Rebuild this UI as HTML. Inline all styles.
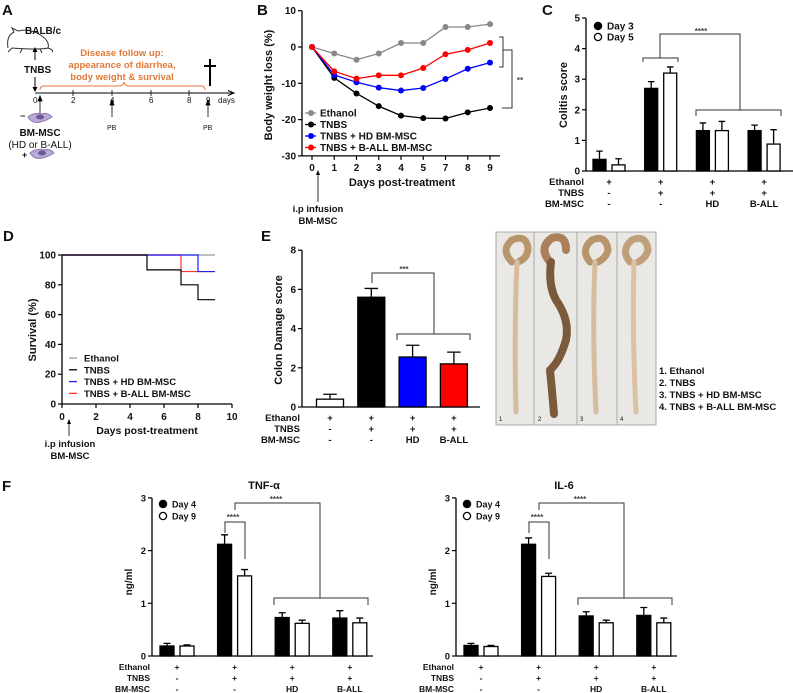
<!DOCTYPE html>
<html><head><meta charset="utf-8">
<style>
html,body{margin:0;padding:0;background:#fff;}
svg{display:block;font-family:"Liberation Sans",sans-serif;}
text{font-weight:bold;fill:#111;}
</style></head>
<body>
<svg id="fig" width="793" height="693" viewBox="0 0 793 693" xmlns="http://www.w3.org/2000/svg">
<!-- Panel letters -->
<g font-size="15">
<text x="2" y="15">A</text>
<text x="257" y="15">B</text>
<text x="542" y="15">C</text>
<text x="3" y="241">D</text>
<text x="261" y="241">E</text>
<text x="2" y="491">F</text>
</g>

<!-- Panel A schematic -->
<g id="panelA">
  <path d="M8 48 Q6 36 14 32 L12 28 L18 31 Q30 28 42 36 Q50 42 48 48 Q54 50 52 52 M12 48 L8 52 M22 49 L20 53 M40 49 L42 53 M48 48 Q40 50 12 48" fill="none" stroke="#333" stroke-width="1"/>
  <text x="25" y="34" font-size="10">BALB/c</text>
  <line x1="35" y1="60" x2="35" y2="49" stroke="#000"/>
  <path d="M32.5 52 L35 47 L37.5 52Z" fill="#000"/>
  <text x="24" y="73" font-size="10">TNBS</text>
  <line x1="35" y1="77" x2="35" y2="90" stroke="#000"/>
  <path d="M32.5 87 L35 92 L37.5 87Z" fill="#000"/>
  <line x1="35" y1="93" x2="232" y2="93" stroke="#000"/>
  <path d="M228 90.5 L234 93 L228 95.5" fill="none" stroke="#000"/>
  <g font-size="8" font-weight="normal">
    <text x="33" y="103" style="font-weight:normal">0</text>
    <text x="71" y="103" style="font-weight:normal">2</text>
    <text x="110" y="103" style="font-weight:normal">4</text>
    <text x="149" y="103" style="font-weight:normal">6</text>
    <text x="187" y="103" style="font-weight:normal">8</text>
    <text x="206" y="103" style="font-weight:normal">9</text>
    <text x="218" y="103" style="font-weight:normal">days</text>
  </g>
  <g stroke="#000" stroke-width="0.8">
    <line x1="73" y1="90" x2="73" y2="96"/><line x1="112" y1="90" x2="112" y2="96"/><line x1="151" y1="90" x2="151" y2="96"/><line x1="189" y1="90" x2="189" y2="96"/>
  </g>
  <g fill="#e07a38" font-size="9.5" text-anchor="middle">
    <text x="122" y="56" style="fill:#e07a38">Disease follow up:</text>
    <text x="122" y="68" style="fill:#e07a38">appearance of diarrhea,</text>
    <text x="122" y="80" style="fill:#e07a38">body weight &amp; survival</text>
  </g>
  <path d="M40 90 Q40 86 44 86 L119 86 Q123 86 124 82 Q125 86 129 86 L201 86 Q205 86 205 90" fill="none" stroke="#e07a38" stroke-width="1"/>
  <path d="M210 59 L210 86 M204 66 L216 66" stroke="#000" stroke-width="2"/>
  <g stroke="#000" stroke-width="0.8">
    <line x1="40" y1="117" x2="40" y2="98"/><path d="M38 101 L40 96 L42 101Z" fill="#000"/>
    <line x1="112" y1="117" x2="112" y2="102"/><path d="M110 105 L112 100 L114 105Z" fill="#000"/>
    <line x1="208" y1="117" x2="208" y2="102"/><path d="M206 105 L208 100 L210 105Z" fill="#000"/>
  </g>
  <text x="107" y="130" font-size="7" style="font-weight:normal">PB</text>
  <text x="203" y="130" font-size="7" style="font-weight:normal">PB</text>
  <path d="M28 117 Q34 112 42 114 Q48 112 52 117 Q46 121 40 122 Q32 124 28 117Z" fill="#b9a9d4" stroke="#8b78b4"/>
  <ellipse cx="40" cy="117" rx="4" ry="2.5" fill="#6a5a9a"/>
  <text x="20" y="119" font-size="9">−</text>
  <text x="40" y="136" font-size="10" text-anchor="middle">BM-MSC</text>
  <text x="40" y="148" font-size="10" text-anchor="middle" style="font-weight:normal">(HD or B-ALL)</text>
  <path d="M30 153 Q36 148 44 150 Q50 148 54 153 Q48 157 42 158 Q34 160 30 153Z" fill="#b9a9d4" stroke="#8b78b4"/>
  <ellipse cx="42" cy="153" rx="4" ry="2.5" fill="#6a5a9a"/>
  <text x="22" y="158" font-size="9">+</text>
</g>

<!-- Static axis titles -->
<text transform="translate(272,85) rotate(-90)" font-size="11" text-anchor="middle">Body weight loss (%)</text>
<text x="402" y="186" font-size="11" text-anchor="middle">Days post-treatment</text>
<line x1="318" y1="202" x2="318" y2="172" stroke="#000" stroke-width="0.8"/><path d="M316 175 L318 170 L320 175Z" fill="#000"/>
<text x="318" y="212" font-size="9.5" text-anchor="middle">i.p infusion</text>
<text x="318" y="224" font-size="9.5" text-anchor="middle">BM-MSC</text>
<text transform="translate(567,95) rotate(-90)" font-size="11" text-anchor="middle">Colitis score</text>
<text transform="translate(36,330) rotate(-90)" font-size="11" text-anchor="middle">Survival (%)</text>
<text x="147" y="434" font-size="10.5" text-anchor="middle">Days post-treatment</text>
<line x1="69" y1="436" x2="69" y2="421" stroke="#000" stroke-width="0.8"/><path d="M67 424 L69 419 L71 424Z" fill="#000"/>
<text x="70" y="447" font-size="9.5" text-anchor="middle">i.p infusion</text>
<text x="70" y="459" font-size="9.5" text-anchor="middle">BM-MSC</text>
<text transform="translate(282,330) rotate(-90)" font-size="11" text-anchor="middle">Colon Damage score</text>
<text x="264" y="489" font-size="11" text-anchor="middle">TNF-α</text>
<text x="564" y="489" font-size="11" text-anchor="middle">IL-6</text>
<text transform="translate(132,582) rotate(-90)" font-size="10" text-anchor="middle">ng/ml</text>
<text transform="translate(436,582) rotate(-90)" font-size="10" text-anchor="middle">ng/ml</text>

<!-- Colon photo -->
<g>
  <rect x="496" y="232" width="160" height="193" fill="#e9e8e4" stroke="#999" stroke-width="0.8"/>
  <line x1="534" y1="232" x2="534" y2="425" stroke="#999" stroke-width="0.8"/>
  <line x1="577" y1="232" x2="577" y2="425" stroke="#999" stroke-width="0.8"/>
  <line x1="617" y1="232" x2="617" y2="425" stroke="#999" stroke-width="0.8"/>
  <g fill="none" stroke-linecap="round">
    <path d="M512 262 Q500 250 512 240 Q526 234 528 248 Q528 258 518 262" stroke="#b8956a" stroke-width="7"/>
    <path d="M517 262 Q514 330 516 412" stroke="#d7bda0" stroke-width="5"/>
    <path d="M550 262 Q538 248 552 238 Q566 234 566 250" stroke="#a9805a" stroke-width="8"/>
    <path d="M551 262 Q548 285 556 300 Q570 320 566 340 Q560 360 552 368 M550 370 Q552 390 554 414" stroke="#7a5a3a" stroke-width="8"/>
    <path d="M590 262 Q580 250 592 240 Q606 234 608 250 Q606 258 598 262" stroke="#b8956a" stroke-width="7"/>
    <path d="M595 262 Q592 330 596 412" stroke="#d7bda0" stroke-width="5"/>
    <path d="M630 262 Q620 250 632 240 Q646 234 648 250 Q646 258 638 262" stroke="#c0a07a" stroke-width="7"/>
    <path d="M634 262 Q632 330 636 412" stroke="#dbc2a4" stroke-width="5"/>
  </g>
  <g font-size="6" style="font-weight:normal">
    <text x="499" y="421" style="font-weight:normal">1</text><text x="538" y="421" style="font-weight:normal">2</text><text x="580" y="421" style="font-weight:normal">3</text><text x="620" y="421" style="font-weight:normal">4</text>
  </g>
</g>
<g font-size="9.5">
  <text x="659" y="374">1. Ethanol</text>
  <text x="659" y="386">2. TNBS</text>
  <text x="659" y="398">3. TNBS + HD BM-MSC</text>
  <text x="659" y="410">4. TNBS + B-ALL BM-MSC</text>
</g>
<g id="dyn"></g>
</svg>

<script>
const NS = 'http://www.w3.org/2000/svg';
const root = document.getElementById('dyn');

// ---- Panel B data ----
const bDays = ['0','1','2','3','4','5','7','8','9'];
const bEthanol = [0, -1.8, -3.5, -1.8, 1.1, 1.1, 5.5, 5.5, 6.3];
const bTnbs = [0, -8.5, -12.8, -16.3, -18.9, -19.6, -19.7, -18, -16.8];
const bHd = [0, -7.7, -9.7, -11.2, -12, -11.3, -8.8, -6, -4.3];
const bBall = [0, -6.7, -8.7, -7.8, -7.8, -5.8, -2, -0.8, 1.1];
const bYTicks = [10, 0, -10, -20, -30];
const bLegend = ['Ethanol', 'TNBS', 'TNBS + HD BM-MSC', 'TNBS + B-ALL BM-MSC'];

// ---- Panel C data ----
const cDay3 = [0.38, 2.7, 1.32, 1.32];
const cDay3Err = [0.27, 0.22, 0.25, 0.18];
const cDay5 = [0.2, 3.2, 1.32, 0.88];
const cDay5Err = [0.2, 0.2, 0.3, 0.47];
const cYTicks = [0, 1, 2, 3, 4, 5];

// ---- Shared treatment rows ----
const rowEthanol = ['+', '+', '+', '+'];
const rowTnbs = ['-', '+', '+', '+'];
const rowMsc = ['-', '-', 'HD', 'B-ALL'];

// ---- Panel D data ----
const dTimes = [0, 5, 7, 8, 9];
const dEthanol = [100, 100, 100, 100, 100];
const dTnbs = [100, 90, 80, 70, 70];
const dHd = [100, 100, 100, 88.9, 88.9];
const dBall = [100, 100, 88.9, 88.9, 88.9];
const dYTicks = [0, 20, 40, 60, 80, 100];
const dXTicks = [0, 2, 4, 6, 8, 10];

// ---- Panel E data ----
const eScore = [0.4, 5.6, 2.55, 2.2];
const eErr = [0.25, 0.45, 0.6, 0.6];
const eYTicks = [0, 2, 4, 6, 8];

// ---- Panel F data ----
const tnfDay4 = [0.19, 2.12, 0.73, 0.72];
const tnfDay4Err = [0.05, 0.18, 0.09, 0.14];
const tnfDay9 = [0.19, 1.52, 0.62, 0.63];
const tnfDay9Err = [0.02, 0.12, 0.06, 0.09];
const il6Day4 = [0.2, 2.12, 0.76, 0.77];
const il6Day4Err = [0.04, 0.12, 0.08, 0.15];
const il6Day9 = [0.18, 1.51, 0.63, 0.63];
const il6Day9Err = [0.02, 0.06, 0.05, 0.09];
const fYTicks = [0, 1, 2, 3];

function mk(parent, tag, attrs, text) {
  const e = document.createElementNS(NS, tag);
  for (const k in attrs) e.setAttribute(k, attrs[k]);
  if (text !== undefined) e.textContent = text;
  parent.appendChild(e);
  return e;
}

function yAxis(ax, ticks, fmt, fs) {
  const g = mk(root, 'g', {});
  
  
  mk(g, 'line', {x1: ax.x0, y1: ax.sy(ticks[0]), x2: ax.x0, y2: ax.sy(ticks[ticks.length-1]), stroke: '#000', 'stroke-width': 1.3});
  ticks.forEach(t => {
    mk(g, 'line', {x1: ax.x0 - 4, y1: ax.sy(t), x2: ax.x0, y2: ax.sy(t), stroke: '#000', 'stroke-width': 1.2});
    const tx = mk(g, 'text', {x: ax.x0 - 6, y: ax.sy(t) + 3.5, 'font-size': fs || 10, 'text-anchor': 'end'}, fmt ? fmt(t) : t);
    
    
  });
}

function rows(ax, centers, yTop, fs) {
  const labels = ['Ethanol', 'TNBS', 'BM-MSC'];
  const data = [rowEthanol, rowTnbs, rowMsc];
  labels.forEach((lab, r) => {
    const y = yTop + r * 11;
    const t = mk(root, 'text', {x: ax.x0 - 2, y: y, 'font-size': fs, 'text-anchor': 'end'}, lab);
    
    
    data[r].forEach((v, i) => {
      const c = mk(root, 'text', {x: centers[i], y: y, 'font-size': fs, 'text-anchor': 'middle'}, v);
      
      
    });
  });
}

function bar(ax, xl, w, v, err, fill, name) {
  const top = ax.sy(v);
  const r = mk(root, 'rect', {x: xl, y: top, width: w, height: ax.sy(0) - top, fill: fill, stroke: '#000', 'stroke-width': 1.3});
  
  
  const cx = xl + w / 2, et = ax.sy(v + err);
  const e = mk(root, 'path', {d: `M${cx} ${top} L${cx} ${et} M${cx - w/4} ${et} L${cx + w/4} ${et}`, stroke: '#000', 'stroke-width': 1.3, fill: 'none'});
  
  
}

function pairedChart(ax, s1, e1, s2, e2, ticks, fs) {
  yAxis(ax, ticks, null, fs);
  const xl = mk(root, 'line', {x1: ax.x0, y1: ax.sy(0), x2: ax.xEnd, y2: ax.sy(0), stroke: '#000', 'stroke-width': 1.3});
  
  
  const centers = s1.map((_, i) => ax.c0 + i * ax.step);
  s1.forEach((v, i) => {
    bar(ax, centers[i] - ax.gap - ax.bw, ax.bw, v, e1[i], '#000', ax.name + '-bar-' + ax.s1name);
    bar(ax, centers[i] + ax.gap, ax.bw, s2[i], e2[i], '#fff', ax.name + '-bar-' + ax.s2name);
  });
  return centers;
}

function legendDot(x, y, filled, label, fs, name) {
  const c = mk(root, 'circle', {cx: x, cy: y, r: 3.6, fill: filled ? '#000' : '#fff', stroke: '#000', 'stroke-width': 1.3});
  
  
  const t = mk(root, 'text', {x: x + 9, y: y + 3.5, 'font-size': fs}, label);
  
  
}

function bracketPath(d, name) {
  const p = mk(root, 'path', {d: d, stroke: '#333', 'stroke-width': 1, fill: 'none'});
  
  
}
function star(x, y, s, name) {
  const t = mk(root, 'text', {x: x, y: y, 'font-size': 8, 'text-anchor': 'middle', style: 'fill:#444'}, s);
  
  
}

// ===== Panel B =====
const axB = {name: 'b', x0: 302, sy: v => 47 - v * 3.63, sx: i => 312 + i * 22.25};
yAxis(axB, bYTicks, null, 10);
const bxl = mk(root, 'line', {x1: 302, y1: axB.sy(-30), x2: 500, y2: axB.sy(-30), stroke: '#000', 'stroke-width': 1.3});


bDays.forEach((d, i) => {
  mk(root, 'line', {x1: axB.sx(i), y1: axB.sy(-30), x2: axB.sx(i), y2: axB.sy(-30) + 4, stroke: '#000', 'stroke-width': 1.2});
  const t = mk(root, 'text', {x: axB.sx(i), y: 171, 'font-size': 10, 'text-anchor': 'middle'}, d);
  
  
});
const bSeries = [[bEthanol, '#888888', 'ethanol'], [bTnbs, '#000000', 'tnbs'], [bHd, '#0000ff', 'hd-bm-msc'], [bBall, '#ff0000', 'b-all-bm-msc']];
bSeries.forEach(([vals, col, nm]) => {
  const pts = vals.map((v, i) => axB.sx(i) + ',' + axB.sy(v)).join(' ');
  const pl = mk(root, 'polyline', {points: pts, fill: 'none', stroke: col, 'stroke-width': 1.3});
  
  
  vals.forEach((v, i) => {
    const c = mk(root, 'circle', {cx: axB.sx(i), cy: axB.sy(v), r: 3, fill: col});
    
    
  });
});
bLegend.forEach((lab, i) => {
  const y = 113 + i * 11.5;
  const col = bSeries[i][1];
  mk(root, 'line', {x1: 305, y1: y, x2: 316, y2: y, stroke: col, 'stroke-width': 1.3});
  const c = mk(root, 'circle', {cx: 311, cy: y, r: 3, fill: col});
  
  
  const t = mk(root, 'text', {x: 320, y: y + 3.5, 'font-size': 10}, lab);
  
  
});
bracketPath('M499 37 L503 37 L503 67 L499 67 M503 50 L512 50 L512 108 L502 108', 'b-significance-bracket');
star(520, 83, '**', 'b-significance-stars');

// ===== Panel C =====
const axC = {name: 'c', x0: 586, xEnd: 793, sy: v => 171 - v * 30.6, c0: 609, step: 51.7, bw: 13, gap: 3, s1name: 'day3', s2name: 'day5'};
const cCenters = pairedChart(axC, cDay3, cDay3Err, cDay5, cDay5Err, cYTicks, 10);
rows(axC, cCenters, 185, 9.5);
legendDot(598, 26, true, 'Day 3', 10, 'c-legend-day3');
legendDot(598, 37, false, 'Day 5', 10, 'c-legend-day5');
bracketPath('M643 62 L643 58 L678 58 L678 62 M660 58 L660 34 L740 34 L740 110 M696 116 L696 110 L781 110 L781 116', 'c-significance-bracket');
star(701, 34, '****', 'c-significance-stars');

// ===== Panel D =====
const axD = {name: 'd', x0: 62, sy: v => 404 - v * 1.49, sx: d => 62 + d * 17};
yAxis(axD, dYTicks, null, 10);
const dxl = mk(root, 'line', {x1: 62, y1: 404, x2: axD.sx(10), y2: 404, stroke: '#000', 'stroke-width': 1.3});


dXTicks.forEach(t => {
  mk(root, 'line', {x1: axD.sx(t), y1: 404, x2: axD.sx(t), y2: 408, stroke: '#000', 'stroke-width': 1.2});
  const tx = mk(root, 'text', {x: axD.sx(t), y: 420, 'font-size': 10, 'text-anchor': 'middle'}, t);
  
  
});
const dSeries = [[dEthanol, '#999999', 'ethanol'], [dBall, '#ff3030', 'b-all-bm-msc'], [dHd, '#2020ff', 'hd-bm-msc'], [dTnbs, '#000000', 'tnbs']];
dSeries.forEach(([vals, col, nm]) => {
  let d = `M${axD.sx(dTimes[0])} ${axD.sy(vals[0])}`;
  for (let i = 1; i < dTimes.length; i++) {
    d += ` L${axD.sx(dTimes[i])} ${axD.sy(vals[i-1])} L${axD.sx(dTimes[i])} ${axD.sy(vals[i])}`;
  }
  const p = mk(root, 'path', {d: d, fill: 'none', stroke: col, 'stroke-width': 1.2});
  
  
});
const dLegCols = ['#999999', '#000000', '#2020ff', '#ff3030'];
bLegend.forEach((lab, i) => {
  const y = 358 + i * 11.8;
  const l = mk(root, 'line', {x1: 69, y1: y, x2: 77, y2: y, stroke: dLegCols[i], 'stroke-width': 1.3});
  
  
  const t = mk(root, 'text', {x: 84, y: y + 3.5, 'font-size': 9.5}, lab);
  
  
});

// ===== Panel E =====
const axE = {name: 'e', x0: 302, sy: v => 407 - v * 19.6};
yAxis(axE, eYTicks, null, 10);
const exl = mk(root, 'line', {x1: 302, y1: 407, x2: 480, y2: 407, stroke: '#000', 'stroke-width': 1.3});


const eColors = ['#ffffff', '#000000', '#0000ff', '#ff0000'];
const eCenters = eScore.map((_, i) => 330 + i * 41.3);
eScore.forEach((v, i) => bar(axE, eCenters[i] - 13.5, 27, v, eErr[i], eColors[i], 'e-bar'));
rows(axE, eCenters, 421, 9.5);
bracketPath('M372 283 L372 273 L434 273 L434 334 M397 340 L397 334 L470 334 L470 340', 'e-significance-bracket');
star(404, 272, '***', 'e-significance-stars');

// ===== Panel F =====
function fPanel(off, nm, s1, e1, s2, e2) {
  const ax = {name: nm, x0: 152 + off, xEnd: 373 + off, sy: v => 656 - v * 52.7, c0: 177 + off, step: 57.6, bw: 14, gap: 3, s1name: 'day4', s2name: 'day9'};
  const centers = pairedChart(ax, s1, e1, s2, e2, fYTicks, 9.5);
  rows(ax, centers, 670, 8.5);
  legendDot(163 + off, 504, true, 'Day 4', 9, nm + '-legend-day4');
  legendDot(163 + off, 516, false, 'Day 9', 9, nm + '-legend-day9');
  bracketPath(`M${225+off} 533 L${225+off} 522 L${245+off} 522 L${245+off} 559 M${235+off} 510 L${235+off} 503 L${320+off} 503 L${320+off} 598 M${274+off} 605 L${274+off} 598 L${368+off} 598 L${368+off} 605`, nm + '-significance-bracket');
  star(233 + off, 520, '****', nm + '-inner-stars');
  star(276 + off, 502, '****', nm + '-outer-stars');
}
fPanel(0, 'tnf', tnfDay4, tnfDay4Err, tnfDay9, tnfDay9Err);
fPanel(304, 'il6', il6Day4, il6Day4Err, il6Day9, il6Day9Err);
</script>
</body></html>
